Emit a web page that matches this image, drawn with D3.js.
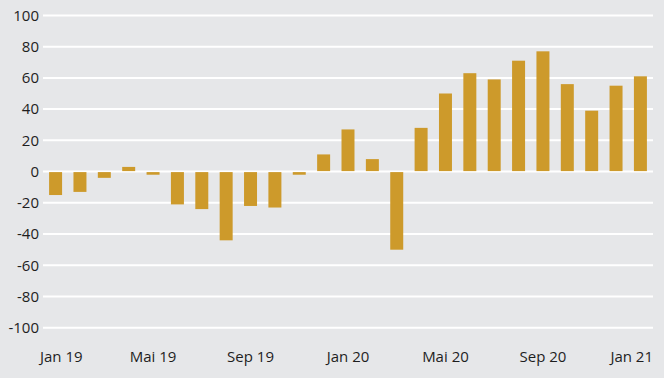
<!DOCTYPE html>
<html>
<head>
<meta charset="utf-8">
<script src="https://cdn.jsdelivr.net/npm/d3@7"></script>
<style>
  body { margin: 0; background: #e6e7e9; }
  svg { display: block; }
  text { font-family: "Open Sans", sans-serif; font-size: 15px; fill: #1e1e1e; }
</style>
</head>
<body>
<div class="chart"></div>
<script>
// months Jan 19 .. Jan 21
var months = ["Jan 19","Feb 19","Mär 19","Apr 19","Mai 19","Jun 19","Jul 19","Aug 19","Sep 19","Okt 19","Nov 19","Dez 19",
              "Jan 20","Feb 20","Mär 20","Apr 20","Mai 20","Jun 20","Jul 20","Aug 20","Sep 20","Okt 20","Nov 20","Dez 20","Jan 21"];
var values = [-15, -13, -4, 3, -2, -21, -24, -44, -22, -23, -2, 11,
              27, 8, -50, 28, 50, 63, 59, 71, 77, 56, 39, 55, 61];
var yTicks = [100, 80, 60, 40, 20, 0, -20, -40, -60, -80, -100];
var xLabels = ["Jan 19", "Mai 19", "Sep 19", "Jan 20", "Mai 20", "Sep 20", "Jan 21"];

var W = 664, H = 378;
var left = 43, right = 653;

var svg = d3.select(".chart")
            .append("svg")
            .attr("width", W)
            .attr("height", H);

var y = d3.scaleLinear()
          .domain([-100, 100])
          .range([327.8, 15.4]);

var x = d3.scaleBand()
          .domain(months)
          .range([left, right])
          .paddingInner(0.467)
          .paddingOuter(0.25);

// grid
svg.selectAll("line.grid")
   .data(yTicks)
   .enter()
   .append("line")
   .attr("class", "grid")
   .attr("x1", left)
   .attr("x2", right)
   .attr("y1", function(d) { return y(d); })
   .attr("y2", function(d) { return y(d); })
   .style("stroke", "#ffffff")
   .style("stroke-width", 2);

// y labels
svg.selectAll("text.ylab")
   .data(yTicks)
   .enter()
   .append("text")
   .attr("class", "ylab")
   .attr("x", 39)
   .attr("y", function(d) { return y(d); })
   .attr("dy", "0.35em")
   .attr("text-anchor", "end")
   .text(function(d) { return d; });

// bars
svg.selectAll("rect.bar")
   .data(values)
   .enter()
   .append("rect")
   .attr("class", "bar")
   .attr("x", function(d, i) { return x(months[i]); })
   .attr("width", x.bandwidth())
   .attr("y", function(d) { return d >= 0 ? y(d) : y(0) + 0.5; })
   .attr("height", function(d) { return d >= 0 ? y(0) - 0.5 - y(d) : y(d) - y(0) - 0.5; })
   .style("fill", "#cd9a2b");

// x labels, first and last kept inside the plot
svg.selectAll("text.xlab")
   .data(xLabels)
   .enter()
   .append("text")
   .attr("class", "xlab")
   .attr("y", 362)
   .attr("x", function(d, i) {
       if (i == 0) return 40;
       if (i == xLabels.length - 1) return right;
       return x(d) + x.bandwidth() / 2;
   })
   .attr("text-anchor", function(d, i) {
       if (i == 0) return "start";
       if (i == xLabels.length - 1) return "end";
       return "middle";
   })
   .text(function(d) { return d; });
</script>
</body>
</html>
